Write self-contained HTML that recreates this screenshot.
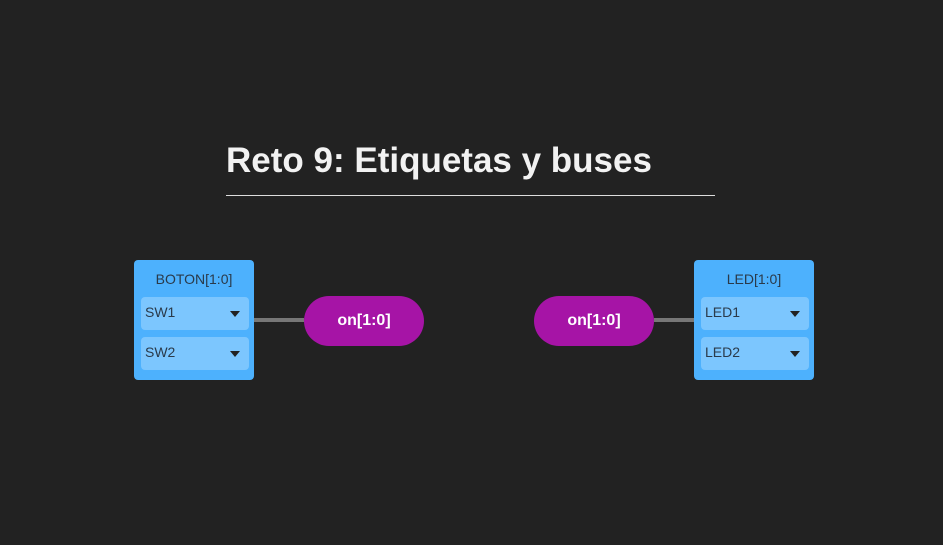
<!DOCTYPE html>
<html><head><style>
body{margin:0;width:943px;height:545px;background:#222;position:relative;overflow:hidden;font-family:"Liberation Sans",sans-serif}
.t{position:absolute;left:226px;top:141px;font-size:35px;font-weight:bold;color:#f2f2f2;white-space:nowrap}
.u{position:absolute;left:226px;top:195px;width:489px;height:1px;background:#ddd}
.box{position:absolute;top:260px;width:120px;height:120px;background:#4db1fd;border-radius:4px}
.box .h{position:absolute;top:11px;width:100%;text-align:center;font-size:14px;color:#2a3a4a}
.f{position:absolute;left:7px;width:108px;height:33px;background:#7cc6fe;border-radius:4px;font-size:14px;color:#2a3a4a;line-height:31px}
.f span{margin-left:4px}
.f i{position:absolute;right:9px;top:14px;width:0;height:0;border-left:5px solid transparent;border-right:5px solid transparent;border-top:6px solid #222}
.pill{position:absolute;top:296px;width:120px;height:50px;border-radius:25px;background:#a614a6;color:#fff;font-size:16px;font-weight:bold;text-align:center;line-height:50px}
.ln{position:absolute;top:318px;height:4px;background:#777}
</style></head><body>
<div class="t">Reto 9: Etiquetas y buses</div>
<div class="u"></div>
<div class="ln" style="left:254px;width:50px"></div>
<div class="ln" style="left:654px;width:40px"></div>
<div class="box" style="left:134px"><div class="h">BOTON[1:0]</div>
<div class="f" style="top:37px"><span>SW1</span><i></i></div>
<div class="f" style="top:77px"><span>SW2</span><i></i></div></div>
<div class="pill" style="left:304px">on[1:0]</div>
<div class="pill" style="left:534px">on[1:0]</div>
<div class="box" style="left:694px"><div class="h">LED[1:0]</div>
<div class="f" style="top:37px"><span>LED1</span><i></i></div>
<div class="f" style="top:77px"><span>LED2</span><i></i></div></div>
</body></html>
